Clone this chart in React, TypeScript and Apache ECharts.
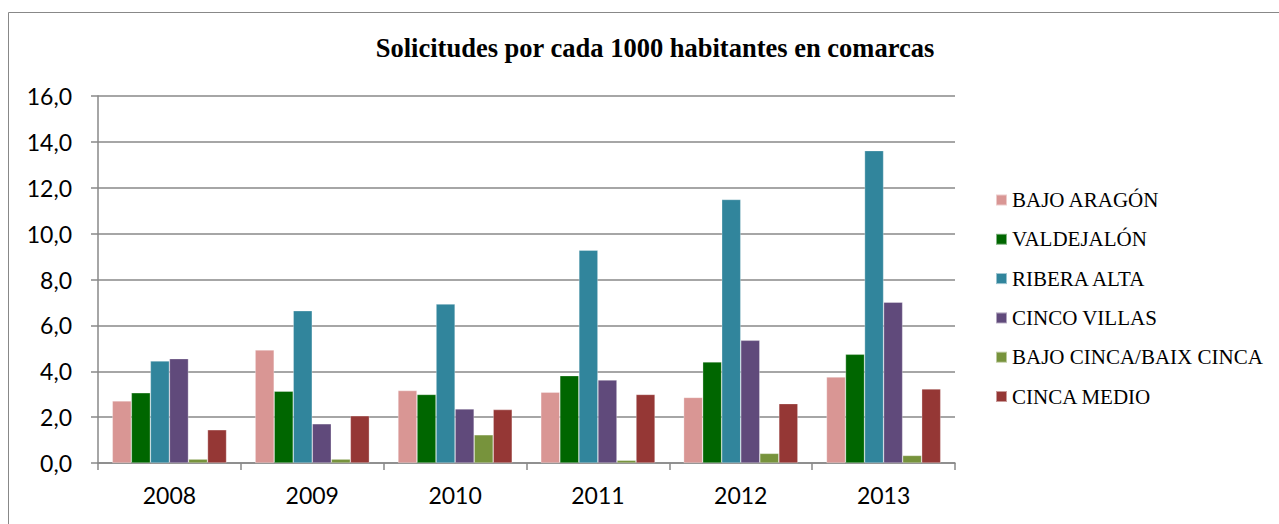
import React, { useEffect, useRef } from "react";
import * as echarts from "echarts";

const categories = ["2008", "2009", "2010", "2011", "2012", "2013"];
const seriesNames = [
  "BAJO ARAGÓN",
  "VALDEJALÓN",
  "RIBERA ALTA",
  "CINCO VILLAS",
  "BAJO CINCA/BAIX CINCA",
  "CINCA MEDIO",
];
const bajoAragon = [2.71, 4.93, 3.16, 3.09, 2.86, 3.75];
const valdejalon = [3.06, 3.13, 2.99, 3.81, 4.41, 4.74];
const riberaAlta = [4.45, 6.64, 6.93, 9.28, 11.49, 13.62];
const cincoVillas = [4.55, 1.71, 2.36, 3.62, 5.35, 7.01];
const bajoCinca = [0.17, 0.17, 1.23, 0.12, 0.42, 0.33];
const cincaMedio = [1.45, 2.06, 2.33, 2.99, 2.59, 3.23];
const colors = ["#D99694", "#006600", "#31859C", "#604A7B", "#77933C", "#953735"];
const titleText = "Solicitudes por cada 1000 habitantes en comarcas";

export default function App() {
  const ref = useRef<HTMLDivElement>(null);
  useEffect(() => {
    if (!ref.current) return;
    const chart = echarts.init(ref.current, null, { renderer: "svg" });
    const values = [bajoAragon, valdejalon, riberaAlta, cincoVillas, bajoCinca, cincaMedio];
    const axisFont = "Lato, 'Open Sans', sans-serif";
    chart.setOption({
      animation: false,
      backgroundColor: "#ffffff",
      title: {
        text: titleText,
        left: 650,
        textAlign: "center",
        top: 29,
        textStyle: {
          fontFamily: "'Liberation Serif', 'Times New Roman', serif",
          fontWeight: "bold",
          fontSize: 26.5,
          color: "#000",
        },
      },
      graphic: [
        {
          type: "rect",
          shape: { x: 8.5, y: 12.5, width: 1400, height: 700 },
          style: { fill: "none", stroke: "#888888", lineWidth: 1 },
          silent: true,
        },
      ],
      legend: {
        orient: "vertical",
        left: 990,
        top: 184,
        itemWidth: 11,
        itemHeight: 11,
        itemGap: 17.3,
        icon: "rect",
        data: seriesNames,
        textStyle: {
          fontFamily: "'Liberation Serif', 'Times New Roman', serif",
          fontSize: 21,
          color: "#000",
          lineHeight: 22,
        },
      },
      grid: { left: 98, right: 324, top: 96, bottom: 61 },
      xAxis: {
        type: "category",
        data: categories,
        axisLine: { show: true, lineStyle: { color: "#888888", width: 1.5 } },
        axisTick: { show: true, length: 7, lineStyle: { color: "#888888", width: 1.5 } },
        axisLabel: { fontFamily: axisFont, fontSize: 23, color: "#000", margin: 20 },
      },
      yAxis: {
        type: "value",
        min: 0,
        max: 16,
        interval: 2,
        axisLine: { show: true, lineStyle: { color: "#888888", width: 1.5 } },
        axisTick: { show: true, length: 7, lineStyle: { color: "#888888", width: 1.5 } },
        splitLine: { show: true, lineStyle: { color: "#888888", width: 1.5 } },
        axisLabel: {
          fontFamily: axisFont,
          fontSize: 23,
          color: "#000",
          margin: 26,
          formatter: (v: number) => v.toFixed(1).replace(".", ","),
        },
      },
      series: seriesNames.map((name, i) => ({
        name,
        type: "bar",
        data: values[i],
        barGap: "0%",
        barCategoryGap: "20%",
        itemStyle: {
          color: colors[i],
          borderColor: "rgba(255,255,255,0.5)",
          borderWidth: 0.6,
        },
      })),
    });
    return () => chart.dispose();
  }, []);
  return (
    <div
      ref={ref}
      style={{ position: "fixed", left: 0, top: 0, width: 1279, height: 524 }}
    />
  );
}
